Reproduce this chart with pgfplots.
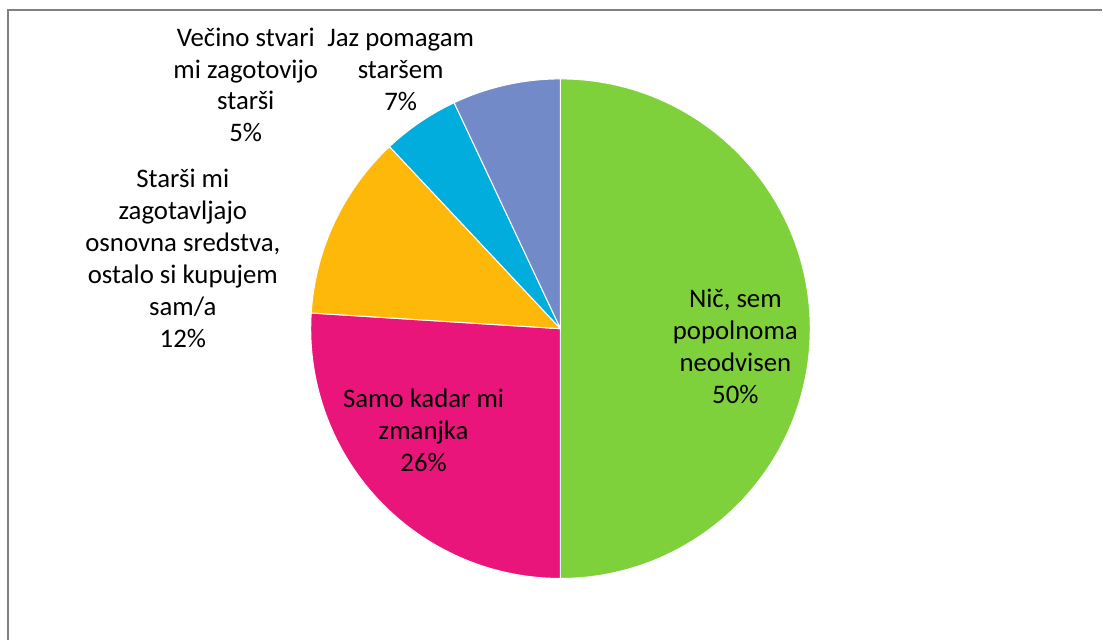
\documentclass[border=0pt]{standalone}
\usepackage{pgfplots}
\pgfplotsset{compat=1.18}
\usepackage{fontspec}
\setmainfont{Carlito}
\definecolor{cA}{HTML}{7FD13B}
\definecolor{cB}{HTML}{EA157A}
\definecolor{cC}{HTML}{FEB80A}
\definecolor{cD}{HTML}{00ADDC}
\definecolor{cE}{HTML}{738AC8}
\definecolor{frame}{RGB}{128,128,128}
\begin{document}
\begin{tikzpicture}
\begin{axis}[x=0.5pt,y=0.5pt,xmin=0,xmax=1103,ymin=0,ymax=641,hide axis,clip=false]
\path (0,0) rectangle (1103,641);
\draw[frame, line width=1pt, line cap=butt, line join=miter] (8,0) -- (8,631) -- (1103,631);
\def\cx{561}\def\cy{312}
\xdef\angA{90}
\foreach \v/\c in {50/cA,26/cB,12/cC,5/cD,7/cE} {
  \pgfmathsetmacro\angB{\angA-3.6*\v}
  \edef\temp{\noexpand\fill[\c, draw=white, line width=0.5pt, line join=round] (\cx,\cy) -- +(\angA:125pt) arc[start angle=\angA, end angle=\angB, radius=125pt] -- cycle;}
  \temp
  \xdef\angA{\angB}
}
\tikzset{lbl/.style={align=center, font=\fontsize{13.4}{16}\selectfont, text=black}}
\node[lbl] at (401,571) {Jaz pomagam\\staršem\\7\%};
\node[lbl] at (246,556) {Večino stvari\\mi zagotovijo\\starši\\5\%};
\node[lbl] at (183,382) {Starši mi\\zagotavljajo\\osnovna sredstva,\\ostalo si kupujem\\sam/a\\12\%};
\node[lbl] at (424,210) {Samo kadar mi\\zmanjka\\26\%};
\node[lbl] at (736,294.5) {Nič, sem\\popolnoma\\neodvisen\\50\%};
\end{axis}
\end{tikzpicture}
\end{document}
